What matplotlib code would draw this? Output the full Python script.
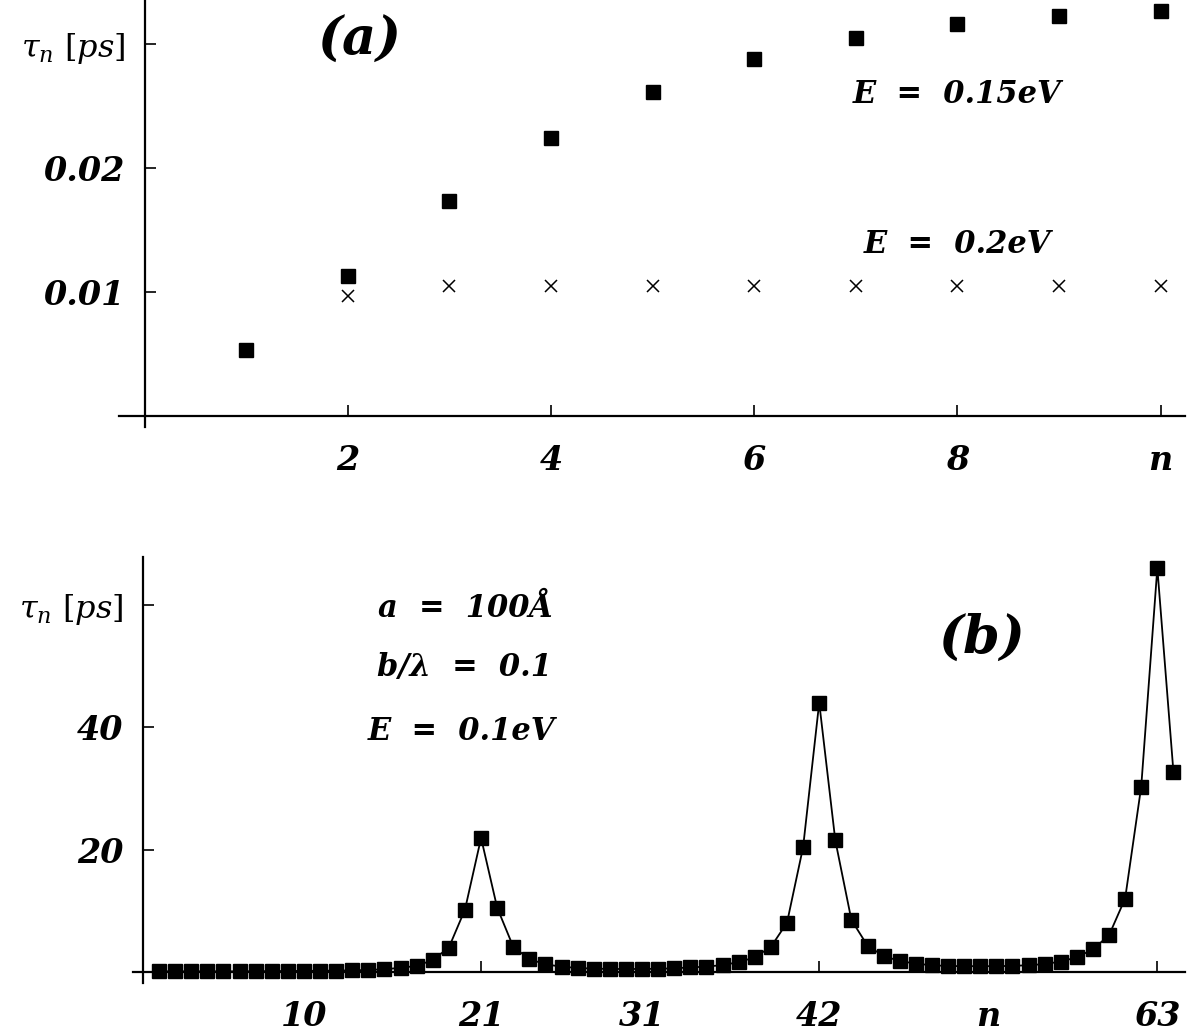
import matplotlib
matplotlib.use('Agg')
import matplotlib.pyplot as plt

plt.rcParams['mathtext.fontset'] = 'dejavuserif'
plt.rcParams['font.family'] = 'DejaVu Serif'

# panel (a): tau_n for the first 10 levels
n_a = [1, 2, 3, 4, 5, 6, 7, 8, 9, 10]
tau_015 = [0.00532, 0.01129, 0.01734, 0.02240, 0.02615, 0.02876, 0.03051, 0.03161, 0.03226, 0.03266]
n_a2 = [2, 3, 4, 5, 6, 7, 8, 9, 10]
tau_02 = [0.00968, 0.01045, 0.01047, 0.01050, 0.01050, 0.01050, 0.01050, 0.01050, 0.01050]

# panel (b): tau_n for n = 1..64
tau_b = [0.10, 0.10, 0.10, 0.10, 0.10, 0.10, 0.12, 0.14, 0.16, 0.18,
         0.20, 0.23, 0.27, 0.33, 0.45, 0.68, 1.00, 1.95, 4.00, 10.2,
         21.9, 10.5, 4.10, 2.10, 1.25, 0.87, 0.65, 0.55, 0.50, 0.48,
         0.50, 0.52, 0.60, 0.75, 0.87, 1.14, 1.60, 2.40, 4.10, 8.05,
         20.4, 44.0, 21.5, 8.50, 4.30, 2.60, 1.80, 1.36, 1.10, 0.98,
         0.95, 0.95, 0.95, 1.00, 1.10, 1.30, 1.70, 2.40, 3.70, 6.00,
         12.0, 30.3, 66.0, 32.7]
n_b = list(range(1, len(tau_b) + 1))

xt_a = [2, 4, 6, 8, 10]
xl_a = ['2', '4', '6', '8', 'n']
yt_a = [0.01, 0.02, 0.03]
yl_a = ['0.01', '0.02', None]

xt_b = [10, 21, 31, 42, 52.5, 63]
xl_b = ['10', '21', '31', '42', 'n', '63']
yt_b = [20, 40, 60]
yl_b = ['20', '40', None]

tau_label = r'$\tau_n\ [ps]$'
bi = dict(fontstyle='italic', fontweight='bold')


def setup(ax):
    for s in ['top', 'right']:
        ax.spines[s].set_visible(False)
    ax.spines['left'].set_position(('data', 0))
    ax.spines['bottom'].set_position(('data', 0))
    ax.spines['left'].set_linewidth(1.6)
    ax.spines['bottom'].set_linewidth(1.6)
    ax.tick_params(axis='both', direction='in', length=8, width=1.2)
    ax.tick_params(axis='x', pad=20)
    ax.tick_params(axis='y', pad=14)


def ylabels(ax, ticks, labels):
    ax.set_yticks(ticks)
    ax.set_yticklabels([s if s else tau_label for s in labels])
    for lab, s in zip(ax.get_yticklabels(), labels):
        if s:
            lab.set_fontsize(24)
            lab.set_fontstyle('italic')
            lab.set_fontweight('bold')
        else:
            lab.set_fontsize(23)


fig = plt.figure(figsize=(12, 10.33), dpi=100)
W, H = 1200, 1033

# ---- panel (a)
ax1 = fig.add_axes([119 / W, 1 - 427 / H, (1185 - 119) / W, 427 / H])
ax1.plot(n_a, tau_015, 's', color='black', ms=9.5, clip_on=False)
ax1.plot(n_a2, tau_02, 'x', color='black', ms=8, mew=1.1, clip_on=False)
ax1.set_xlim(-0.251, 10.24)
ax1.set_ylim(-0.000887, 0.03355)
setup(ax1)
ax1.set_xticks(xt_a)
ax1.set_xticklabels(xl_a, fontsize=24, **bi)
ylabels(ax1, yt_a, yl_a)

ax1.text(2.12, 0.0303, '(a)', fontsize=38, ha='center', va='center', **bi)
ax1.text(8.0, 0.0259, 'E  =  0.15eV', fontsize=22, ha='center', va='center', **bi)
ax1.text(8.0, 0.0138, 'E  =  0.2eV', fontsize=22, ha='center', va='center', **bi)

# ---- panel (b)
ax2 = fig.add_axes([133.3 / W, 1 - 983 / H, (1184.7 - 133.3) / W, (983 - 557) / H])
ax2.plot(n_b, tau_b, '-s', color='black', lw=1.3, ms=9.5, clip_on=False)
ax2.set_xlim(-0.6, 64.7)
ax2.set_ylim(-1.8, 67.8)
setup(ax2)
ax2.set_xticks(xt_b)
ax2.set_xticklabels(xl_b, fontsize=24, **bi)
for i, t in enumerate(ax2.xaxis.get_major_ticks()):
    if xl_b[i] in ('10', '31', 'n'):
        t.tick1line.set_visible(False)
ylabels(ax2, yt_b, yl_b)

ax2.text(20.06, 59.4, 'a  =  100Å', fontsize=22, ha='center', va='center', **bi)
ax2.text(20.0, 49.8, 'b/λ  =  0.1', fontsize=22, ha='center', va='center', **bi)
ax2.text(19.8, 39.3, 'E  =  0.1eV', fontsize=22, ha='center', va='center', **bi)
ax2.text(52.1, 54.5, '(b)', fontsize=38, ha='center', va='center', **bi)

fig.savefig('out.png', dpi=100)
